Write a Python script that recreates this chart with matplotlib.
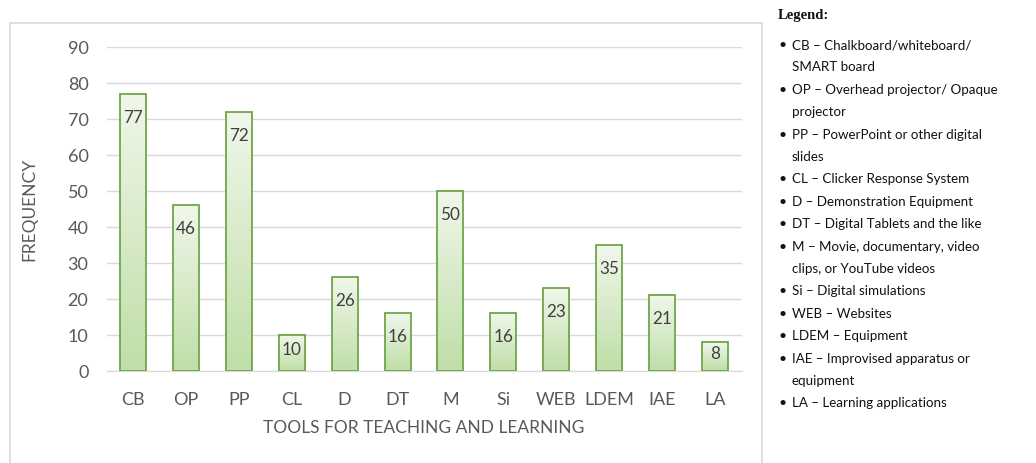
import numpy as np
import matplotlib.pyplot as plt
from matplotlib.patches import Rectangle
from matplotlib.colors import LinearSegmentedColormap

tools = ['CB', 'OP', 'PP', 'CL', 'D', 'DT', 'M', 'Si', 'WEB', 'LDEM', 'IAE', 'LA']
freq = [77, 46, 72, 10, 26, 16, 50, 16, 23, 35, 21, 8]
yticks = [0, 10, 20, 30, 40, 50, 60, 70, 80, 90]
legend_items = [
    ('CB \u2013 Chalkboard/whiteboard/', 'SMART board'),
    ('OP \u2013 Overhead projector/ Opaque', 'projector'),
    ('PP \u2013 PowerPoint or other digital', 'slides'),
    ('CL \u2013 Clicker Response System', None),
    ('D \u2013 Demonstration Equipment', None),
    ('DT \u2013 Digital Tablets and the like', None),
    ('M \u2013 Movie, documentary, video', 'clips, or YouTube videos'),
    ('Si \u2013 Digital simulations', None),
    ('WEB \u2013 Websites', None),
    ('LDEM \u2013 Equipment', None),
    ('IAE \u2013 Improvised apparatus or', 'equipment'),
    ('LA \u2013 Learning applications', None),
]

plt.rcParams['font.family'] = ['Lato', 'DejaVu Sans']
W, H = 1036, 463
fig = plt.figure(figsize=(W / 100, H / 100), dpi=100)

# chart frame (bottom edge runs off the image)
fig.patches.append(Rectangle((10 / W, -0.05), 752 / W, 1.05 - 23 / H, transform=fig.transFigure,
                             fill=False, edgecolor='#d9d9d9', linewidth=1.2))

ax = fig.add_axes([106.5 / W, 1 - 371 / H, 635 / W, 324 / H])
x = np.arange(len(tools))

cmap = LinearSegmentedColormap.from_list('g', ['#bfdea8', '#f0f7ea'])
grad = np.linspace(0, 1, 100).reshape(-1, 1)
bars = ax.bar(x, freq, width=0.49, facecolor='none', edgecolor='#6fa64a', linewidth=1.3, zorder=3)
for b in bars:
    x0, w, h = b.get_x(), b.get_width(), b.get_height()
    im = ax.imshow(grad, cmap=cmap, aspect='auto', origin='lower',
                   extent=(x0, x0 + w, 0, h), zorder=2)
    im.set_clip_path(b)
    ty = max(h - 6.6, h / 2 + 0.8)
    ax.text(x0 + w / 2, ty, str(int(h)), ha='center', va='center',
            fontsize=12.3, color='#404040', zorder=4)
ax.set_xlim(-0.5, len(tools) - 0.5)
ax.set_ylim(0, 90)

ax.set_yticks(yticks)
ax.set_xticks(x)
ax.set_xticklabels(tools)
ax.tick_params(length=0, labelsize=13, colors='#595959')
ax.tick_params(axis='x', pad=15)
ax.tick_params(axis='y', pad=13)
ax.grid(axis='y', color='#d9d9d9', linewidth=1)
ax.set_axisbelow(True)
for s in ['top', 'right', 'left']:
    ax.spines[s].set_visible(False)
ax.spines['bottom'].set_color('#d9d9d9')
ax.set_xlabel('TOOLS FOR TEACHING AND LEARNING', fontsize=12.5, color='#595959', labelpad=9)
ax.set_ylabel('FREQUENCY', fontsize=12.5, color='#595959', labelpad=22)

# legend text block
fig.text(778 / W, 1 - 15 / H, 'Legend:', fontsize=10.5, fontweight='bold',
         family='Liberation Serif', va='center', color='#111111')
y = 45
step = 22.4
for first, second in legend_items:
    fig.text(778 / W, 1 - y / H, '\u2022', fontsize=10, va='center', color='#111111')
    fig.text(792 / W, 1 - y / H, first, fontsize=9.6, va='center', color='#111111')
    y += step
    if second:
        fig.text(792 / W, 1 - y / H, second, fontsize=9.6, va='center', color='#111111')
        y += step

fig.savefig('out.png', dpi=100)
